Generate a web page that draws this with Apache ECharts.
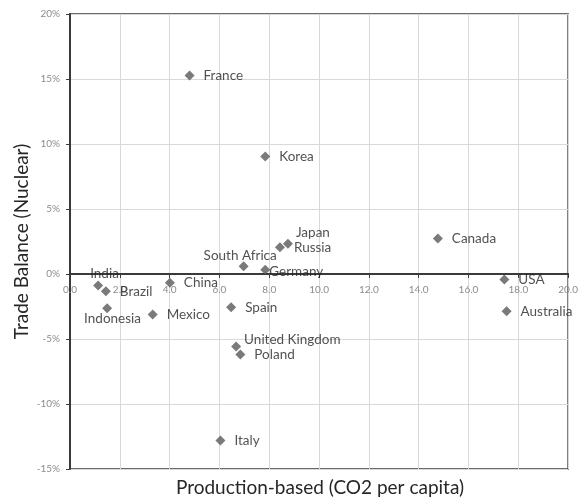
<!DOCTYPE html>
<html>
<head>
<meta charset="utf-8">
<title>Trade Balance (Nuclear) vs Production-based CO2 per capita</title>
<script src="https://cdn.jsdelivr.net/npm/echarts@6/dist/echarts.min.js"></script>
<style>
  html, body { margin: 0; padding: 0; background: #ffffff; }
  #chart { width: 581px; height: 501px; }
</style>
</head>
<body>
<div id="chart"></div>
<script>
// Countries and their values
const countries = ['France', 'Korea', 'Japan', 'Russia', 'South Africa', 'Germany',
  'India', 'Brazil', 'Indonesia', 'China', 'Mexico', 'Spain', 'United Kingdom',
  'Poland', 'Italy', 'Canada', 'USA', 'Australia'];
// Production-based CO2 emissions per capita (tonnes)
const co2PerCapita = [4.8, 7.84, 8.75, 8.43, 6.97, 7.84,
  1.13, 1.44, 1.49, 4.01, 3.32, 6.47, 6.67,
  6.84, 6.04, 14.77, 17.44, 17.53];
// Nuclear trade balance (%)
const tradeBalance = [15.27, 9.04, 2.32, 2.06, 0.6, 0.32,
  -0.88, -1.32, -2.63, -0.68, -3.12, -2.55, -5.58,
  -6.19, -12.81, 2.73, -0.42, -2.86];

// Axis ranges and tick steps
const xRange = [0, 20];
const xStep = 2;
const yRange = [-15, 20];
const yStep = 5;

// Label nudges for crowded points, relative to the default right-hand placement
const labelNudge = {
  'India': [-22, -12],
  'Indonesia': [-37, 10],
  'South Africa': [-54, -11],
  'Japan': [-6, -11],
  'Germany': [-10, 2],
  'United Kingdom': [-6, -7]
};

const FONT = 'Lato, "Open Sans", sans-serif';

// Plot box
const GRID = { left: 70, right: 11, top: 14, bottom: 32 };
const CHART_W = 581, CHART_H = 501;
const plotH = CHART_H - GRID.top - GRID.bottom;
const plotCx = GRID.left + (CHART_W - GRID.left - GRID.right) / 2;
const plotCy = GRID.top + plotH / 2;
// Lift the category axis from the bottom edge up to the zero line
const zeroLift = plotH * (0 - yRange[0]) / (yRange[1] - yRange[0]);

const points = countries.map((name, i) => {
  const item = { name: name, value: [co2PerCapita[i], tradeBalance[i]] };
  if (labelNudge[name]) {
    item.label = { offset: labelNudge[name] };
  }
  return item;
});

const chart = echarts.init(document.getElementById('chart'), null, { renderer: 'canvas' });

chart.setOption({
  backgroundColor: '#ffffff',
  animation: false,
  grid: {
    left: GRID.left, right: GRID.right, top: GRID.top, bottom: GRID.bottom,
    show: true,
    borderColor: '#3a3a3a',
    borderWidth: 1.5,
    containLabel: false
  },
  xAxis: {
    type: 'value',
    position: 'bottom',
    offset: -zeroLift,
    min: xRange[0], max: xRange[1], interval: xStep,
    axisLine: { show: true, onZero: false, lineStyle: { color: '#3a3a3a', width: 2 } },
    axisTick: { show: true, inside: false, length: 4, lineStyle: { color: '#3a3a3a', width: 1 } },
    axisLabel: {
      color: '#8c8c8c', fontFamily: FONT, fontSize: 10, margin: 11,
      formatter: v => v.toFixed(1)
    },
    splitLine: { show: true, lineStyle: { color: '#d9d9d9', width: 1 } }
  },
  yAxis: {
    type: 'value',
    min: yRange[0], max: yRange[1], interval: yStep,
    axisLine: { show: true, onZero: false, lineStyle: { color: '#3a3a3a', width: 2 } },
    axisTick: { show: true, inside: false, length: 4, lineStyle: { color: '#3a3a3a', width: 1 } },
    axisLabel: {
      color: '#8c8c8c', fontFamily: FONT, fontSize: 10, margin: 10,
      formatter: v => v + '%'
    },
    splitLine: { show: true, lineStyle: { color: '#d9d9d9', width: 1 } }
  },
  graphic: [
    {
      type: 'text',
      x: plotCx, y: 488,
      style: {
        text: 'Production-based (CO2 per capita)',
        font: '19px ' + FONT,
        fill: '#262626',
        align: 'center',
        verticalAlign: 'middle'
      }
    },
    {
      type: 'text',
      x: 22, y: plotCy,
      rotation: Math.PI / 2,
      style: {
        text: 'Trade Balance (Nuclear)',
        font: '19px ' + FONT,
        fill: '#262626',
        align: 'center',
        verticalAlign: 'middle'
      }
    }
  ],
  series: [{
    type: 'scatter',
    symbol: 'diamond',
    symbolSize: 10,
    itemStyle: { color: '#595959' },
    label: {
      show: true,
      position: 'right',
      distance: 9,
      formatter: '{b}',
      color: '#262626',
      fontFamily: FONT,
      fontSize: 13.5
    },
    data: points
  }]
});
</script>
</body>
</html>
